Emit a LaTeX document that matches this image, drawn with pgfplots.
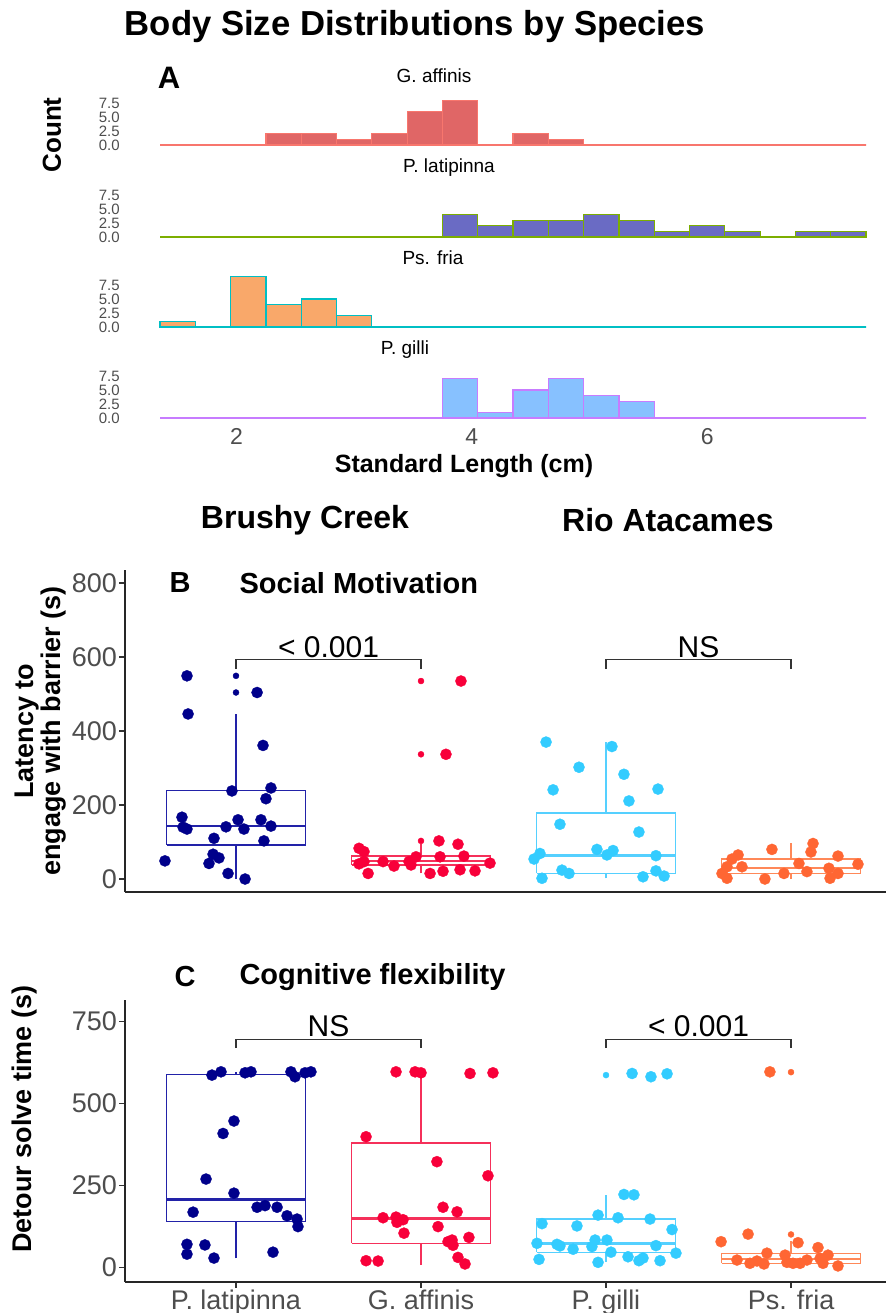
\documentclass[border=0pt]{standalone}
\usepackage{fontspec}
\setmainfont{Liberation Sans}
\usepackage{pgfplots}
\pgfplotsset{compat=1.18}

\definecolor{gaffF}{HTML}{E06666}
\definecolor{gaffE}{HTML}{F8766D}
\definecolor{platF}{HTML}{6A6BC4}
\definecolor{platE}{HTML}{7CAE00}
\definecolor{pfriF}{HTML}{F9A86A}
\definecolor{pfriE}{HTML}{00BFC4}
\definecolor{pgilF}{HTML}{87C1FF}
\definecolor{pgilE}{HTML}{C77CFF}
\definecolor{navyP}{HTML}{00008B}
\definecolor{navyB}{HTML}{2222A8}
\definecolor{redP}{HTML}{F8003A}
\definecolor{redB}{HTML}{F5305A}
\definecolor{cyanP}{HTML}{33CCFF}
\definecolor{cyanB}{HTML}{55D0FF}
\definecolor{orP}{HTML}{FF6633}
\definecolor{orB}{HTML}{FF8858}
\definecolor{tickgray}{HTML}{4D4D4D}

\newcommand{\fs}[1]{\fontsize{#1}{#1}\selectfont}

\pgfplotsset{
  histo/.style={scale only axis, width=706pt, height=55.44pt,
    xmin=1.35, xmax=7.35, ymin=-0.45, ymax=9.45,
    axis lines=left, axis line style={draw=none,-}, tick style={draw=none},
    ytick={0,2.5,5,7.5}, yticklabels={0.0,2.5,5.0,7.5},
    yticklabel style={font=\fs{15}, text=tickgray, inner sep=1pt, xshift=-37pt},
    xtick=\empty, anchor=south west, clip=false},
  bxp/.style={scale only axis, width=761pt, xmin=0.4, xmax=4.5135,
    axis x line=bottom, axis y line=left,
    axis line style={line width=1.3pt, black!85, -},
    tick style={line width=1.1pt, black!80}, major tick length=6pt,
    tick align=outside,
    yticklabel style={font=\fs{27}, text=tickgray, inner sep=2pt},
    clip=false, anchor=south west},
  pts/.style={only marks, mark=*, mark size=5.6pt, color=#1,
    mark options={fill=#1, draw=#1, line width=0.3pt}},
  outl/.style={only marks, mark=*, mark size=3pt, color=#1,
    mark options={fill=#1, draw=#1}},
  bx/.style={draw=#1, line width=1.3pt, no marks},
  md/.style={draw=#1, line width=2.6pt, no marks},
}

\begin{document}
\begin{tikzpicture}
\path[use as bounding box] (0,0) rectangle (886pt,-1313pt);

% ---- panel A: histograms
\node[font=\bfseries\fs{34.7}] at (415pt,-27pt) {Body Size Distributions by Species};
\node[font=\bfseries\fs{31}] at (169pt,-78pt) {A};
\node[font=\bfseries\fs{26}, rotate=90] at (52pt,-135pt) {Count};

\node[font=\fs{19}] at (434pt,-76pt) {G. affinis};
\begin{axis}[histo, at={(160pt,-147.52pt)}]
\addplot[ybar interval, fill=gaffF, draw=gaffE, line width=1.2pt] coordinates {
(1.35,0) (1.65,0) (1.95,0) (2.25,2) (2.55,2) (2.85,1) (3.15,2) (3.45,6) (3.75,8) (4.05,0)
(4.35,2) (4.65,1) (4.95,0) (5.25,0) (5.55,0) (5.85,0) (6.15,0) (6.45,0) (6.75,0) (7.05,0) (7.35,0)};
\end{axis}

\node[font=\fs{19}] at (449pt,-168pt) {P. latipinna};
\begin{axis}[histo, at={(160pt,-239.52pt)}]
\addplot[ybar interval, fill=platF, draw=platE, line width=1.2pt] coordinates {
(1.35,0) (1.65,0) (1.95,0) (2.25,0) (2.55,0) (2.85,0) (3.15,0) (3.45,0) (3.75,4) (4.05,2)
(4.35,3) (4.65,3) (4.95,4) (5.25,3) (5.55,1) (5.85,2) (6.15,1) (6.45,0) (6.75,1) (7.05,1) (7.35,0)};
\end{axis}

\node[font=\fs{19}] at (433pt,-258pt) {Ps. fria};
\begin{axis}[histo, at={(160pt,-329.52pt)}]
\addplot[ybar interval, fill=pfriF, draw=pfriE, line width=1.2pt] coordinates {
(1.35,1) (1.65,0) (1.95,9) (2.25,4) (2.55,5) (2.85,2) (3.15,0) (3.45,0) (3.75,0) (4.05,0)
(4.35,0) (4.65,0) (4.95,0) (5.25,0) (5.55,0) (5.85,0) (6.15,0) (6.45,0) (6.75,0) (7.05,0) (7.35,0)};
\end{axis}

\node[font=\fs{19}] at (405pt,-350pt) {P. gilli};
\begin{axis}[histo, at={(160pt,-420.52pt)}, xtick={2,4,6}, xticklabels={2,4,6},
  xticklabel style={font=\fs{23}, text=tickgray, yshift=-2pt}]
\addplot[ybar interval, fill=pgilF, draw=pgilE, line width=1.2pt] coordinates {
(1.35,0) (1.65,0) (1.95,0) (2.25,0) (2.55,0) (2.85,0) (3.15,0) (3.45,0) (3.75,7) (4.05,1)
(4.35,5) (4.65,7) (4.95,4) (5.25,3) (5.55,0) (5.85,0) (6.15,0) (6.45,0) (6.75,0) (7.05,0) (7.35,0)};
\end{axis}
\node[font=\bfseries\fs{25}] at (464pt,-466pt) {Standard Length (cm)};

\node[font=\bfseries\fs{32}] at (305pt,-520pt) {Brushy Creek};
\node[font=\bfseries\fs{32}] at (668pt,-520pt) {Rio Atacames};

% ---- panel B
\node[font=\bfseries\fs{29}] at (180pt,-583pt) {B};
\node[font=\bfseries\fs{29}, anchor=west] at (236pt,-583pt) {Social Motivation};
\node[font=\bfseries\fs{27}, rotate=90, align=center] at (41pt,-731pt)
  {\fontsize{27}{31.5}\selectfont Latency to\\engage with barrier (s)};

\begin{axis}[bxp, at={(125pt,-892pt)}, height=322pt, ymin=-35.1, ymax=835,
  ytick={0,200,400,600,800}, yticklabels={0,200,400,600,800}, xtick=\empty]
% boxes: whiskers, box, median
\addplot[bx=navyB] coordinates {(1,0) (1,92)};
\addplot[bx=navyB] coordinates {(1,240) (1,446)};
\addplot[bx=navyB] coordinates {(0.625,92) (1.375,92) (1.375,240) (0.625,240) (0.625,92)};
\addplot[md=navyB] coordinates {(0.625,143) (1.375,143)};
\addplot[bx=redB] coordinates {(2,15) (2,38)};
\addplot[bx=redB] coordinates {(2,62) (2,94)};
\addplot[bx=redB] coordinates {(1.625,38) (2.375,38) (2.375,62) (1.625,62) (1.625,38)};
\addplot[md=redB] coordinates {(1.625,49) (2.375,49)};
\addplot[bx=cyanB] coordinates {(3,2) (3,15)};
\addplot[bx=cyanB] coordinates {(3,178) (3,370)};
\addplot[bx=cyanB] coordinates {(2.625,15) (3.375,15) (3.375,178) (2.625,178) (2.625,15)};
\addplot[md=cyanB] coordinates {(2.625,63) (3.375,63)};
\addplot[bx=orB] coordinates {(4,0) (4,15)};
\addplot[bx=orB] coordinates {(4,54) (4,96)};
\addplot[bx=orB] coordinates {(3.625,15) (4.375,15) (4.375,54) (3.625,54) (3.625,15)};
\addplot[md=orB] coordinates {(3.625,30) (4.375,30)};

\addplot[outl=navyP] coordinates {(1,549) (1,504)};
\addplot[outl=redP] coordinates {(2,535) (2,337) (2,103)};

\addplot[pts=navyP] coordinates {
(0.735,549) (0.741,446) (1.114,504) (1.146,361) (0.978,238) (1.189,246) (1.162,217)
(0.708,167) (0.714,140) (0.735,135) (0.946,141) (1.011,160) (1.043,135) (1.135,160)
(1.189,143) (0.881,110) (1.151,103) (0.616,49) (0.876,67) (0.908,57) (0.854,42)
(0.957,15) (1.049,0)};
\addplot[pts=redP] coordinates {
(2.135,337) (2.216,535) (1.665,83) (1.692,74) (1.692,47) (1.665,41) (1.714,15)
(1.795,47) (1.854,35) (1.935,47) (1.973,60) (1.946,38) (2.049,15) (2.097,103)
(2.103,60) (2.119,21) (2.200,94) (2.232,62) (2.373,43) (2.211,25) (2.292,22)};
\addplot[pts=cyanP] coordinates {
(2.676,370) (3.032,358) (2.854,302) (3.097,283) (2.714,241) (3.281,243) (3.124,211)
(2.751,148) (3.178,127) (2.643,69) (2.611,54) (2.951,80) (3.005,65) (3.038,77)
(3.270,63) (2.762,24) (2.800,15) (2.654,2) (3.200,6) (3.270,22) (3.314,8)};
\addplot[pts=orP] coordinates {
(3.897,80) (4.119,96) (4.108,73) (4.254,62) (3.714,65) (3.681,54) (3.654,33)
(3.735,33) (3.627,15) (3.654,2) (3.859,0) (3.962,15) (4.043,42) (4.086,20)
(4.205,29) (4.254,15) (4.211,2) (4.362,40)};

\addplot[bx=black!80, line width=1.1pt] coordinates {(1,567) (1,592) (2,592) (2,567)};
\addplot[bx=black!80, line width=1.1pt] coordinates {(3,567) (3,592) (4,592) (4,567)};
\node[anchor=base, font=\fs{30}] at (axis cs:1.5,598) {< 0.001};
\node[anchor=base, font=\fs{30}] at (axis cs:3.5,598) {NS};
\end{axis}

% ---- panel C
\node[font=\bfseries\fs{29}] at (185pt,-977pt) {C};
\node[font=\bfseries\fs{29}, anchor=west] at (236pt,-977pt) {Cognitive flexibility};
\node[font=\bfseries\fs{27}, rotate=90] at (25pt,-1119pt) {Detour solve time (s)};

\begin{axis}[bxp, at={(125pt,-1282pt)}, height=282pt, ymin=-45, ymax=815,
  ytick={0,250,500,750}, yticklabels={0,250,500,750},
  xtick={1,2,3,4}, xticklabels={P. latipinna,G. affinis,P. gilli,Ps. fria},
  xticklabel style={font=\fs{27}, text=tickgray, inner sep=2pt}]
\addplot[bx=navyB] coordinates {(1,27) (1,139)};
\addplot[bx=navyB] coordinates {(1,588) (1,596)};
\addplot[bx=navyB] coordinates {(0.625,139) (1.375,139) (1.375,588) (0.625,588) (0.625,139)};
\addplot[md=navyB] coordinates {(0.625,207) (1.375,207)};
\addplot[bx=redB] coordinates {(2,7) (2,73)};
\addplot[bx=redB] coordinates {(2,379) (2,593)};
\addplot[bx=redB] coordinates {(1.625,73) (2.375,73) (2.375,379) (1.625,379) (1.625,73)};
\addplot[md=redB] coordinates {(1.625,149) (2.375,149)};
\addplot[bx=cyanB] coordinates {(3,17) (3,46)};
\addplot[bx=cyanB] coordinates {(3,147) (3,220)};
\addplot[bx=cyanB] coordinates {(2.625,46) (3.375,46) (3.375,147) (2.625,147) (2.625,46)};
\addplot[md=cyanB] coordinates {(2.625,73) (3.375,73)};
\addplot[bx=orB] coordinates {(4,2) (4,12)};
\addplot[bx=orB] coordinates {(4,41) (4,80)};
\addplot[bx=orB] coordinates {(3.625,12) (4.375,12) (4.375,41) (3.625,41) (3.625,12)};
\addplot[md=orB] coordinates {(3.625,25) (4.375,25)};

\addplot[outl=cyanP] coordinates {(3,586)};
\addplot[outl=orP] coordinates {(4,595) (4,100)};

\addplot[pts=navyP] coordinates {
(0.870,586) (0.919,596) (1.049,593) (1.081,596) (1.297,596) (1.319,581) (1.373,593)
(1.405,596) (0.989,446) (0.930,408) (0.838,269) (0.989,226) (0.768,168) (1.114,183)
(1.157,188) (1.222,183) (1.276,157) (1.330,147) (1.335,124) (0.735,70) (0.735,40)
(0.832,68) (0.881,28) (1.200,46)};
\addplot[pts=redP] coordinates {
(1.865,596) (1.968,596) (2.000,593) (2.265,591) (2.389,593) (1.703,398) (2.086,322)
(2.362,279) (2.119,183) (2.195,169) (1.795,151) (1.865,153) (1.903,145) (1.870,137)
(1.908,104) (2.092,124) (2.146,78) (2.168,83) (2.173,67) (2.259,91) (2.200,30)
(2.238,10) (1.703,20) (1.768,19)};
\addplot[pts=cyanP] coordinates {
(3.141,591) (3.243,581) (3.330,590) (3.097,222) (3.151,221) (2.957,159) (3.065,151)
(3.238,147) (2.654,133) (2.843,126) (3.357,115) (2.941,83) (3.005,83) (2.627,73)
(2.735,70) (2.751,65) (2.924,63) (3.270,66) (2.822,55) (3.027,46) (3.378,43)
(3.119,32) (3.200,28) (3.178,20) (2.638,24) (2.957,15) (3.292,20)};
\addplot[pts=orP] coordinates {
(3.886,596) (3.622,78) (3.768,101) (4.038,75) (4.146,60) (3.870,43) (3.968,37)
(3.708,22) (3.778,12) (3.816,19) (3.854,10) (3.978,15) (4.011,12) (4.049,12)
(4.086,22) (4.157,27) (4.200,37) (4.173,12) (4.254,4)};

\addplot[bx=black!80, line width=1.1pt] coordinates {(1,668) (1,695) (2,695) (2,668)};
\addplot[bx=black!80, line width=1.1pt] coordinates {(3,668) (3,695) (4,695) (4,668)};
\node[anchor=base, font=\fs{30}] at (axis cs:1.5,705) {NS};
\node[anchor=base, font=\fs{30}] at (axis cs:3.5,705) {< 0.001};
\end{axis}
\end{tikzpicture}
\end{document}
